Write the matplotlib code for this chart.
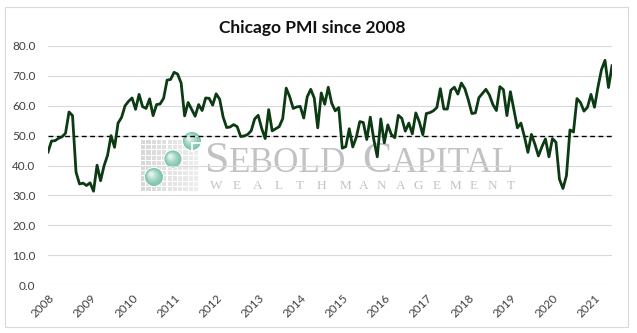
import numpy as np
import matplotlib
matplotlib.use("Agg")
import matplotlib.pyplot as plt
from matplotlib.patches import Rectangle, Circle
from matplotlib.colors import to_rgb
import matplotlib.transforms as mtransforms

# Chicago PMI, monthly, Feb 2008 .. Jul 2021
PMI_2008 = [44.5, 48.2, 48.3, 49.1, 49.6, 50.8, 57.9, 56.7, 37.8, 33.8, 34.1]
PMI_2009 = [33.3, 34.2, 31.4, 40.1, 34.9, 39.9, 43.4, 50.0, 46.1, 54.2, 56.1, 60.0]
PMI_2010 = [61.5, 62.6, 58.8, 63.8, 59.7, 59.1, 62.3, 56.7, 60.4, 60.6, 62.5, 68.6]
PMI_2011 = [68.8, 71.2, 70.6, 67.6, 56.6, 61.1, 58.8, 56.5, 60.4, 58.4, 62.6, 62.5]
PMI_2012 = [60.2, 64.0, 62.2, 56.2, 52.7, 52.9, 53.7, 53.0, 49.7, 49.9, 50.4, 51.6]
PMI_2013 = [55.6, 56.8, 52.4, 49.0, 58.7, 51.6, 52.3, 53.0, 55.7, 65.9, 63.0, 59.1]
PMI_2014 = [59.6, 59.8, 55.9, 63.0, 65.5, 62.6, 52.6, 64.3, 60.5, 66.2, 60.8, 58.3]
PMI_2015 = [59.4, 45.8, 46.3, 52.3, 46.2, 49.4, 54.7, 54.4, 48.7, 56.2, 48.7, 42.9]
PMI_2016 = [55.6, 47.6, 53.6, 50.4, 49.3, 56.8, 55.8, 51.5, 54.2, 50.6, 57.6, 54.6]
PMI_2017 = [50.3, 57.4, 57.7, 58.3, 59.4, 65.7, 58.9, 58.9, 65.2, 66.2, 63.9, 67.6]
PMI_2018 = [65.7, 61.9, 57.4, 57.6, 62.7, 64.1, 65.5, 63.6, 60.4, 58.4, 66.4, 65.4]
PMI_2019 = [56.7, 64.7, 58.7, 52.6, 54.2, 49.7, 44.4, 50.4, 47.1, 43.2, 46.3, 48.9]
PMI_2020 = [42.9, 49.0, 47.8, 35.4, 32.3, 36.6, 51.9, 51.2, 62.4, 61.1, 58.2, 59.5]
PMI_2021 = [63.8, 59.5, 66.3, 72.1, 75.2, 66.1, 73.4]

YEARS = list(range(2008, 2022))
Y_TICKS = [0, 10, 20, 30, 40, 50, 60, 70, 80]
THRESHOLD = 50.0

pmi = np.array(PMI_2008 + PMI_2009 + PMI_2010 + PMI_2011 + PMI_2012 + PMI_2013
               + PMI_2014 + PMI_2015 + PMI_2016 + PMI_2017 + PMI_2018 + PMI_2019
               + PMI_2020 + PMI_2021)
months = np.arange(len(pmi))

W, H = 637, 333
fig = plt.figure(figsize=(W / 100, H / 100), dpi=100)

# background layer in pixel units: chart border + watermark logo
bg = fig.add_axes([0, 0, 1, 1], zorder=0)
bg.set_xlim(0, W)
bg.set_ylim(H, 0)
bg.axis("off")
bg.add_patch(Rectangle((5, 6.5), 623, 320, fill=False, ec="#d9d9d9", lw=0.8))

# grid of small squares
for r in range(10):
    for c in range(11):
        a = 0.85 - 0.45 * c / 10
        bg.add_patch(Rectangle((141 + c * 5.3, 140 + r * 5.2), 4.2, 4.1,
                               fc="#d2d2d2", ec="none", alpha=a))

def sphere(cx, cy, rad):
    edge = np.array(to_rgb("#7dc4ae"))
    light = np.array(to_rgb("#eaf8f3"))
    bg.add_patch(Circle((cx, cy), rad + 1.0, fc="white", ec="none"))
    n = 14
    for k in range(n):
        t = k / n
        col = edge + (light - edge) * t ** 1.3
        bg.add_patch(Circle((cx - 0.35 * rad * t, cy - 0.35 * rad * t),
                            rad * (1 - 0.85 * t), fc=col, ec="none"))

sphere(154, 177, 9)
sphere(173, 159, 8.5)
sphere(192, 141, 9)
bg.plot([192, 202], [143, 143], color="white", lw=1.2)
bg.plot([192, 192], [143, 151], color="white", lw=1.2)

wm = dict(color="#c2c2c2", family="Liberation Serif", va="baseline", ha="left")
bg.text(204, 172, "S", fontsize=31.5, **wm)
bg.text(229, 172, "EBOLD", fontsize=25.3, **wm)
bg.text(362, 172, "C", fontsize=31.5, **wm)
bg.text(392, 172, "APITAL", fontsize=25.3, **wm)
for i, ch in enumerate("WEALTH"):
    bg.text(216 + i * 21, 189, ch, fontsize=9.5, color="#c2c2c2",
            family="Liberation Serif", ha="center", va="baseline")
for i, ch in enumerate("MANAGEMENT"):
    bg.text(345 + i * 18.4, 189, ch, fontsize=9.5, color="#c2c2c2",
            family="Liberation Serif", ha="center", va="baseline")

# main chart
ax = fig.add_axes([48 / W, 1 - 285 / H, (612 - 48) / W, (285 - 46) / H], zorder=1)
ax.set_facecolor("none")

ax.plot(months, pmi, color="#0c3a13", lw=2.0, solid_joinstyle="round", zorder=3)
ax.axhline(THRESHOLD, color="black", lw=1.0, ls=(0, (3.5, 2.5)), zorder=2)

ax.set_xlim(0, len(pmi) - 1)
ax.set_ylim(0, 80)
ax.set_yticks(Y_TICKS)
ax.set_yticklabels([f"{v:.1f}" for v in Y_TICKS])
ax.yaxis.grid(True, color="#d9d9d9", lw=0.8)
ax.set_axisbelow(True)

ax.set_xticks([12 * i for i in range(len(YEARS))])
ax.set_xticklabels([str(y) for y in YEARS], rotation=45, ha="right",
                   rotation_mode="anchor")
shift = mtransforms.ScaledTranslation(6 / 100, 0, fig.dpi_scale_trans)
for lbl in ax.get_xticklabels():
    lbl.set_transform(lbl.get_transform() + shift)

for s in ax.spines.values():
    s.set_visible(False)
ax.tick_params(axis="both", length=0, labelsize=8.5, labelcolor="#404040")
ax.tick_params(axis="y", pad=9)
ax.tick_params(axis="x", pad=5)
for lbl in ax.get_xticklabels() + ax.get_yticklabels():
    lbl.set_family("Lato")

fig.text(312 / W, 1 - 28 / H, "Chicago PMI since 2008", ha="center", va="center",
         fontsize=12.5, fontweight="bold", family="Lato", color="#111111")

fig.savefig("out.png", dpi=100)
